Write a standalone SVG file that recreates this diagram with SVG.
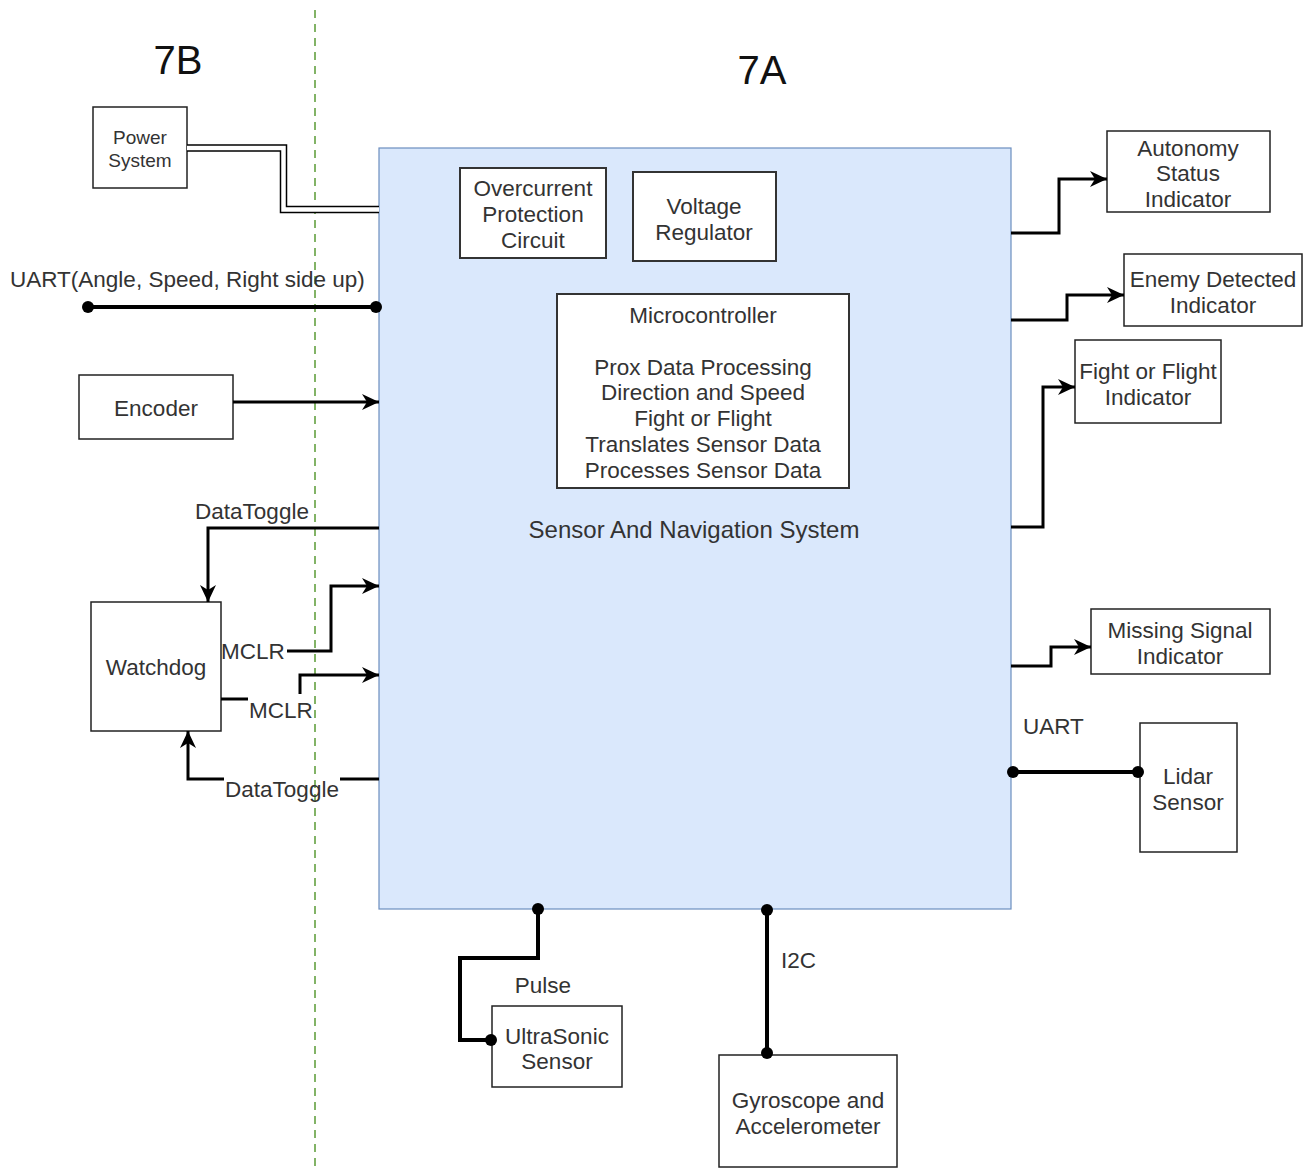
<svg xmlns="http://www.w3.org/2000/svg" width="1303" height="1169" viewBox="0 0 1303 1169">
  <defs>
    <style>
      text { font-family: "Liberation Sans", Arial, sans-serif; font-size: 22.5px; fill: #333333; text-anchor: middle; }
      .box { fill: #ffffff; stroke: #222222; stroke-width: 1.5; }
      .inner { fill: #ffffff; stroke: #333333; stroke-width: 2; }
      .wire { fill: none; stroke: #000000; stroke-width: 3; }
      .bus { fill: none; stroke: #000000; stroke-width: 4; }
      .big { font-size: 40px; fill: #111111; }
      .small { font-size: 19px; }
      .title { font-size: 24px; }
      .left { text-anchor: start; }
    </style>
    <marker id="arrow" markerUnits="userSpaceOnUse" markerWidth="18" markerHeight="16" refX="17" refY="8" orient="auto">
      <path d="M0,0 L17,8 L0,16 L5,8 z" fill="#000000"/>
    </marker>
  </defs>

  <rect width="1303" height="1169" fill="#ffffff"/>

  <!-- boundary between 7B and 7A -->
  <line x1="315" y1="10" x2="315" y2="1169" stroke="#82b366" stroke-width="2" stroke-dasharray="8 6"/>
  <text class="big" x="178" y="74">7B</text>
  <text class="big" x="762" y="84">7A</text>

  <!-- main system block -->
  <g id="sensor-nav-system">
    <rect x="379" y="148" width="632" height="761" fill="#dae8fc" stroke="#6c8ebf" stroke-width="1.2"/>
    <text class="title" x="694" y="538">Sensor And Navigation System</text>
  </g>
  <g id="overcurrent">
    <rect class="inner" x="460" y="168" width="146" height="90"/>
    <text x="533" y="196">Overcurrent</text>
    <text x="533" y="222">Protection</text>
    <text x="533" y="248">Circuit</text>
  </g>
  <g id="voltage-regulator">
    <rect class="inner" x="633" y="172" width="143" height="89"/>
    <text x="704" y="214">Voltage</text>
    <text x="704" y="240">Regulator</text>
  </g>
  <g id="microcontroller">
    <rect class="inner" x="557" y="294" width="292" height="194"/>
    <text x="703" y="323">Microcontroller</text>
    <text x="703" y="375">Prox Data Processing</text>
    <text x="703" y="400">Direction and Speed</text>
    <text x="703" y="426">Fight or Flight</text>
    <text x="703" y="452">Translates Sensor Data</text>
    <text x="703" y="478">Processes Sensor Data</text>
  </g>

  <!-- left side nodes -->
  <g id="power-system">
    <rect class="box" x="93" y="107" width="94" height="81"/>
    <text class="small" x="140" y="144">Power</text>
    <text class="small" x="140" y="167">System</text>
  </g>
  <g id="encoder">
    <rect class="box" x="79" y="375" width="154" height="64"/>
    <text x="156" y="416">Encoder</text>
  </g>
  <g id="watchdog">
    <rect class="box" x="91" y="602" width="130" height="129"/>
    <text x="156" y="675">Watchdog</text>
  </g>

  <!-- right side nodes -->
  <g id="autonomy-indicator">
    <rect class="box" x="1107" y="131" width="163" height="81"/>
    <text x="1188" y="156">Autonomy</text>
    <text x="1188" y="181">Status</text>
    <text x="1188" y="207">Indicator</text>
  </g>
  <g id="enemy-indicator">
    <rect class="box" x="1124" y="254" width="178" height="72"/>
    <text x="1213" y="287">Enemy Detected</text>
    <text x="1213" y="313">Indicator</text>
  </g>
  <g id="fight-indicator">
    <rect class="box" x="1075" y="340" width="146" height="83"/>
    <text x="1148" y="379">Fight or Flight</text>
    <text x="1148" y="405">Indicator</text>
  </g>
  <g id="missing-indicator">
    <rect class="box" x="1091" y="609" width="179" height="65"/>
    <text x="1180" y="638">Missing Signal</text>
    <text x="1180" y="664">Indicator</text>
  </g>
  <g id="lidar">
    <rect class="box" x="1140" y="723" width="97" height="129"/>
    <text x="1188" y="784">Lidar</text>
    <text x="1188" y="810">Sensor</text>
  </g>

  <!-- bottom nodes -->
  <g id="ultrasonic">
    <rect class="box" x="492" y="1006" width="130" height="81"/>
    <text x="557" y="1044">UltraSonic</text>
    <text x="557" y="1069">Sensor</text>
  </g>
  <g id="gyro">
    <rect class="box" x="719" y="1055" width="178" height="112"/>
    <text x="808" y="1108">Gyroscope and</text>
    <text x="808" y="1134">Accelerometer</text>
  </g>

  <!-- connectors -->
  <g id="connectors">
    <!-- power feed (double line) -->
    <path d="M187,148 H283.5 V209.5 H379" fill="none" stroke="#000000" stroke-width="7.5"/>
    <path d="M187,148 H283.5 V209.5 H379" fill="none" stroke="#ffffff" stroke-width="4.5"/>

    <!-- UART from 7B -->
    <text class="left" x="10" y="287">UART(Angle, Speed, Right side up)</text>
    <line class="bus" x1="88" y1="307" x2="376" y2="307"/>
    <circle cx="88" cy="307" r="6"/>
    <circle cx="376" cy="307" r="6"/>

    <!-- encoder -->
    <line class="wire" x1="233" y1="402" x2="379" y2="402" marker-end="url(#arrow)"/>

    <!-- data toggle to watchdog -->
    <path class="wire" d="M379,528 H208 V602" marker-end="url(#arrow)"/>
    <text x="252" y="519">DataToggle</text>

    <!-- MCLR lines -->
    <text class="left" x="221" y="659">MCLR</text>
    <path class="wire" d="M287,651 H331 V586 H379" marker-end="url(#arrow)"/>
    <line class="wire" x1="221" y1="699" x2="248" y2="699"/>
    <text class="left" x="249" y="718">MCLR</text>
    <path class="wire" d="M300,694 V675 H379" marker-end="url(#arrow)"/>

    <!-- data toggle from watchdog -->
    <path class="wire" d="M224,779 H188 V731" marker-end="url(#arrow)"/>
    <line class="wire" x1="340" y1="779" x2="379" y2="779"/>
    <text x="282" y="797">DataToggle</text>

    <!-- indicators -->
    <path class="wire" d="M1011,233 H1059 V179 H1107" marker-end="url(#arrow)"/>
    <path class="wire" d="M1011,320 H1067 V295 H1124" marker-end="url(#arrow)"/>
    <path class="wire" d="M1011,527 H1043 V387 H1075" marker-end="url(#arrow)"/>
    <path class="wire" d="M1011,666 H1051 V647 H1091" marker-end="url(#arrow)"/>

    <!-- lidar UART -->
    <text class="left" x="1023" y="734">UART</text>
    <line class="bus" x1="1013" y1="772" x2="1138" y2="772"/>
    <circle cx="1013" cy="772" r="6"/>
    <circle cx="1138" cy="772" r="6"/>

    <!-- ultrasonic pulse -->
    <path class="bus" d="M538,909 V958 H460 V1040 H491"/>
    <circle cx="538" cy="909" r="6"/>
    <circle cx="491" cy="1040" r="6"/>
    <text x="543" y="993">Pulse</text>

    <!-- I2C -->
    <line class="bus" x1="767" y1="909" x2="767" y2="1053"/>
    <circle cx="767" cy="910" r="6"/>
    <circle cx="767" cy="1053" r="6"/>
    <text class="left" x="781" y="968">I2C</text>
  </g>
</svg>
